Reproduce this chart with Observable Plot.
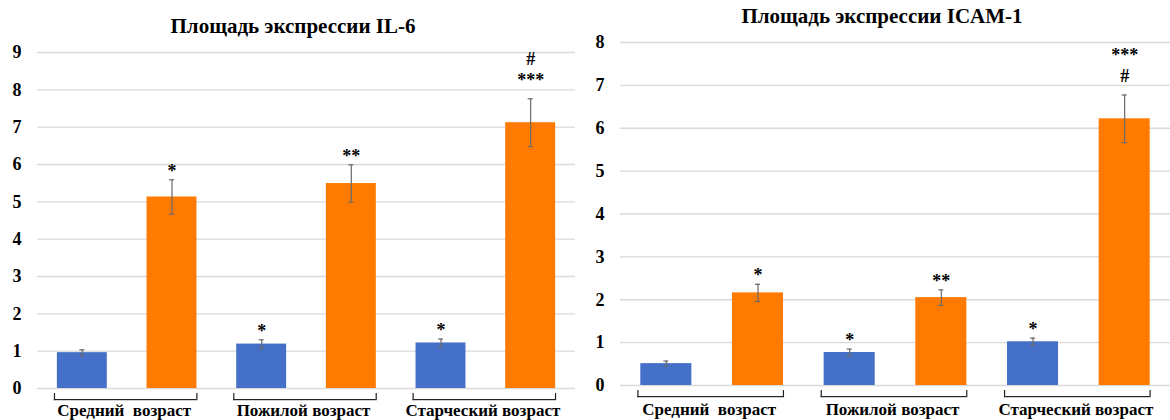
<!DOCTYPE html>
<html><head><meta charset="utf-8">
<script src="https://cdn.jsdelivr.net/npm/d3@7"></script>
<script src="https://cdn.jsdelivr.net/npm/@observablehq/plot@0.6"></script>
<style>
body{margin:0;background:#fff;}
#wrap{position:relative;width:1170px;height:420px;overflow:hidden;font-family:"Liberation Serif","Times New Roman",serif;color:#000;}
.panel{position:absolute;top:0;}
.title{position:absolute;font-weight:bold;font-size:21px;line-height:1;white-space:nowrap;transform:translateX(-50%);}
#wrap svg text{white-space:pre;font-family:"Liberation Serif","Times New Roman",serif;font-weight:bold;fill:#000;}
</style></head><body><div id="wrap"></div>
<script>
// ---- data ----
const groups = ["Средний  возраст", "Пожилой возраст", "Старческий возраст"];
const seriesKeys = ["A", "B"];
const seriesColors = ["#4470C8", "#FF7A00"];

const il6Title = "Площадь экспрессии IL-6";
const il6Ticks = [0, 1, 2, 3, 4, 5, 6, 7, 8, 9];
const il6Blue = [0.96, 1.19, 1.22];
const il6BlueErr = [0.075, 0.115, 0.105];
const il6BlueSig = ["", "*", "*"];
const il6Orange = [5.13, 5.49, 7.12];
const il6OrangeErr = [0.46, 0.50, 0.64];
const il6OrangeSig = ["*", "**", "#\n***"];

const icamTitle = "Площадь экспрессии ICAM-1";
const icamTicks = [0, 1, 2, 3, 4, 5, 6, 7, 8];
const icamBlue = [0.51, 0.77, 1.02];
const icamBlueErr = [0.06, 0.08, 0.085];
const icamBlueSig = ["", "*", "*"];
const icamOrange = [2.16, 2.05, 6.22];
const icamOrangeErr = [0.20, 0.18, 0.555];
const icamOrangeSig = ["*", "**", "***\n#"];

function buildRows(blue, blueErr, blueSig, orange, orangeErr, orangeSig) {
  const rows = [];
  groups.forEach((g, i) => {
    rows.push({key: g + "|A", group: g, series: "A", value: blue[i], err: blueErr[i], sig: blueSig[i]});
    rows.push({key: g + "|B", group: g, series: "B", value: orange[i], err: orangeErr[i], sig: orangeSig[i]});
  });
  return rows;
}

function panel(cfg) {
  const {rows, ticks, title, left, width, mL, mR, mT, mB, titleX, titleTop, labelDy} = cfg;
  const pi = 0.443, po = 0.2215;
  const n = rows.length;
  const step = (width - mR - mL) / (n - pi + 2 * po);
  const bw = step * (1 - pi);
  const zero = () => 0;
  const A = rows.filter(d => d.series === "A");
  const B = rows.filter(d => d.series === "B");
  const single = rows.filter(d => d.sig && !d.sig.includes("\n"));
  const multi = rows.filter(d => d.sig && d.sig.includes("\n"));
  const errColor = "#6a6a6a";
  const chart = Plot.plot({
    width, height: 420,
    marginLeft: mL, marginRight: mR, marginTop: mT, marginBottom: mB,
    style: {fontFamily: "Liberation Serif, Times New Roman, serif", fontSize: "17px", fontWeight: "bold", color: "#000", background: "#fff", overflow: "visible"},
    x: {domain: rows.map(d => d.key), paddingInner: pi, paddingOuter: po, align: 0.5, round: false, axis: null},
    y: {domain: [ticks[0], ticks[ticks.length - 1]], axis: null},
    color: {domain: seriesKeys, range: seriesColors},
    marks: [
      Plot.ruleY(ticks, {stroke: "#d9d9d9", strokeWidth: 1.3}),
      Plot.text(ticks, {y: d => d, text: d => String(d), frameAnchor: "left", textAnchor: "end", dx: -16, fontSize: 18, fontWeight: "bold"}),
      Plot.barY(rows, {x: "key", y: "value", fill: "series"}),
      Plot.ruleX(rows, {x: "key", y1: d => d.value - d.err, y2: d => d.value + d.err, stroke: errColor, strokeWidth: 1.2}),
      Plot.tickY(rows, {x: "key", y: d => d.value - d.err, stroke: errColor, strokeWidth: 1.2, inset: bw / 2 - 2.5}),
      Plot.tickY(rows, {x: "key", y: d => d.value + d.err, stroke: errColor, strokeWidth: 1.2, inset: bw / 2 - 2.5}),
      Plot.text(single, {x: "key", y: d => d.value + d.err, text: "sig", lineAnchor: "bottom", dy: -3, fontSize: 18, fontWeight: "bold"}),
      Plot.text(multi, {x: "key", y: d => d.value + d.err, text: "sig", lineAnchor: "bottom", dy: -13, fontSize: 18, fontWeight: "bold", lineHeight: 1.15}),
      // brackets
      Plot.barY(A, {x: "key", y1: zero, y2: zero, fill: "#222", insetTop: 11, insetBottom: -12.2, insetLeft: -3, insetRight: -step}),
      Plot.barY(A, {x: "key", y1: zero, y2: zero, fill: "#222", insetTop: 5, insetBottom: -12.2, insetLeft: -3, insetRight: bw + 1.8}),
      Plot.barY(B, {x: "key", y1: zero, y2: zero, fill: "#222", insetTop: 5, insetBottom: -12.2, insetLeft: bw - 0.2, insetRight: -1}),
      Plot.text(A, {x: "key", y: zero, text: "group", dx: step / 2 - 3, dy: labelDy, lineAnchor: "middle", fontSize: 17, fontWeight: "bold"})
    ]
  });
  const div = document.createElement("div");
  div.className = "panel";
  div.style.left = left + "px";
  div.appendChild(chart);
  const t = document.createElement("div");
  t.className = "title";
  t.textContent = title;
  t.style.left = titleX + "px";
  t.style.top = titleTop + "px";
  div.appendChild(t);
  document.getElementById("wrap").appendChild(div);
}

panel({rows: buildRows(il6Blue, il6BlueErr, il6BlueSig, il6Orange, il6OrangeErr, il6OrangeSig),
  ticks: il6Ticks, title: il6Title, left: 0, width: 580, mL: 37, mR: 5, mT: 52, mB: 32, titleX: 293, titleTop: 16, labelDy: 22});
panel({rows: buildRows(icamBlue, icamBlueErr, icamBlueSig, icamOrange, icamOrangeErr, icamOrangeSig),
  ticks: icamTicks, title: icamTitle, left: 580, width: 590, mL: 40, mR: 0, mT: 42, mB: 35, titleX: 302, titleTop: 6, labelDy: 24});
</script></body></html>
